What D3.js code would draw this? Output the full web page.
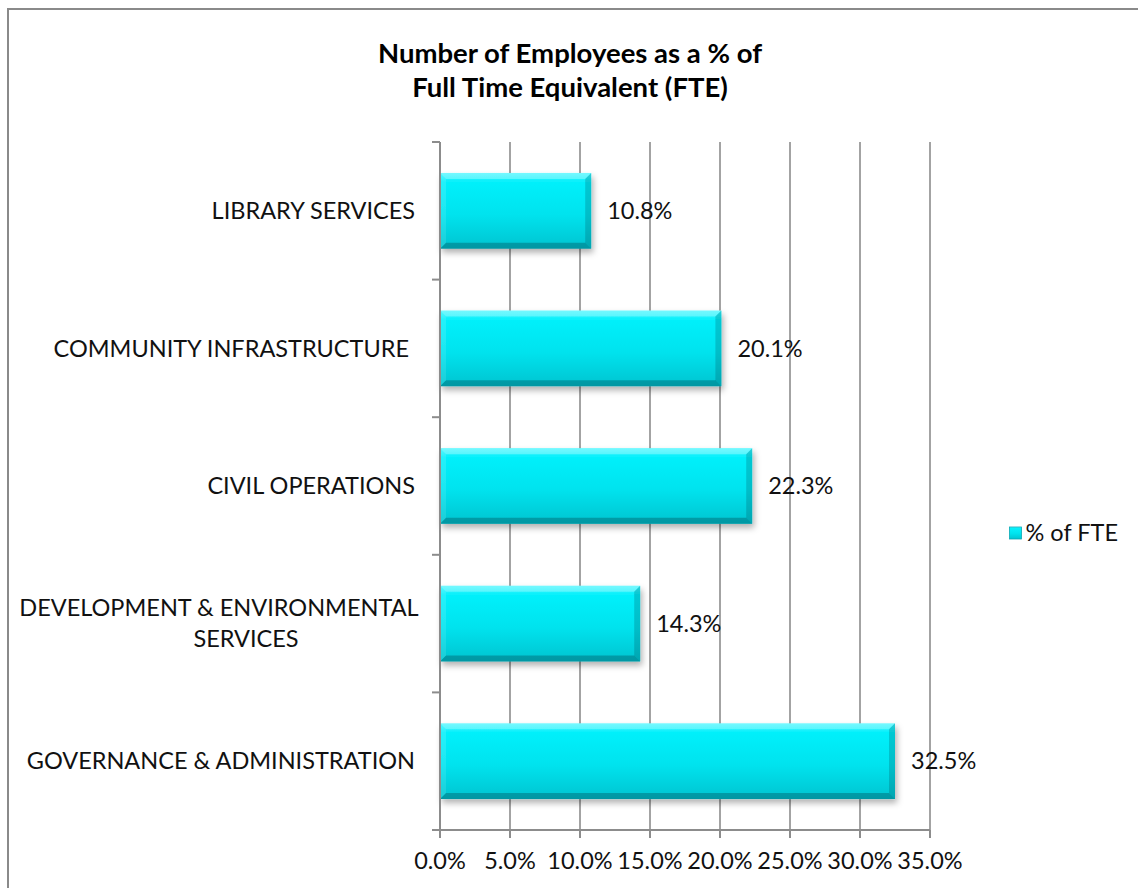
<!DOCTYPE html>
<html>
<head>
<meta charset="utf-8">
<script src="https://cdn.jsdelivr.net/npm/d3@7"></script>
<style>
  body { margin: 0; background: #fff; }
  svg { display: block; font-family: Lato, "Open Sans", sans-serif; }
</style>
</head>
<body>
<div id="chart"></div>
<script>
// chart data
const categories = [
    ['LIBRARY SERVICES'],
    ['COMMUNITY INFRASTRUCTURE '],
    ['CIVIL OPERATIONS'],
    ['DEVELOPMENT & ENVIRONMENTAL', 'SERVICES'],
    ['GOVERNANCE & ADMINISTRATION']
];
const values = [10.8, 20.1, 22.3, 14.3, 32.5];
const xTicks = [0, 5, 10, 15, 20, 25, 30, 35];
const seriesName = '% of FTE';
const titleLines = ['Number of Employees as a % of', 'Full Time Equivalent (FTE)'];

const width = 1138;
const height = 888;
const plot = { left: 440, right: 930, top: 142, bottom: 830 };
const labelSize = '23.5px';

const svg = d3.select('#chart')
    .append('svg')
    .attr('width', width)
    .attr('height', height);

const defs = svg.append('defs');

const grad = defs.append('linearGradient')
    .attr('id', 'barGrad')
    .attr('x1', 0).attr('y1', 0).attr('x2', 0).attr('y2', 1);
grad.append('stop').attr('offset', '0%').attr('stop-color', '#40f6ff');
grad.append('stop').attr('offset', '12%').attr('stop-color', '#06f0fb');
grad.append('stop').attr('offset', '55%').attr('stop-color', '#00e3ee');
grad.append('stop').attr('offset', '100%').attr('stop-color', '#00c4d0');

const shadow = defs.append('filter')
    .attr('id', 'shadow')
    .attr('x', '-5%').attr('y', '-20%').attr('width', '115%').attr('height', '150%');
shadow.append('feDropShadow')
    .attr('dx', 2).attr('dy', 4).attr('stdDeviation', 3)
    .attr('flood-color', '#000').attr('flood-opacity', 0.3);

// outer frame
svg.append('rect')
    .attr('x', 8).attr('y', 9)
    .attr('width', width + 20).attr('height', height + 20)
    .attr('fill', 'none')
    .attr('stroke', '#8a8a8a')
    .attr('stroke-width', 2);

// title
svg.append('text')
    .attr('x', 570)
    .attr('text-anchor', 'middle')
    .style('font-size', '27.5px')
    .style('font-weight', 'bold')
    .selectAll('tspan')
    .data(titleLines)
    .enter().append('tspan')
    .attr('x', 570)
    .attr('y', (d, i) => 63 + i * 34)
    .text(d => d);

const x = d3.scaleLinear()
    .domain([0, 35])
    .range([plot.left, plot.right]);

const y = d3.scaleBand()
    .domain(d3.range(categories.length))
    .range([plot.top, plot.bottom])
    .paddingInner(0.45)
    .paddingOuter(0.225);

const yBand = d3.scaleBand()
    .domain(d3.range(categories.length))
    .range([plot.top, plot.bottom]);

// gridlines
svg.append('g')
    .selectAll('line')
    .data(xTicks.slice(1))
    .enter().append('line')
    .attr('x1', d => x(d)).attr('x2', d => x(d))
    .attr('y1', plot.top).attr('y2', plot.bottom)
    .attr('stroke', '#8c8c8c')
    .attr('stroke-width', 1.6);

// bars
const bars = svg.append('g')
    .selectAll('g')
    .data(values)
    .enter().append('g')
    .attr('filter', 'url(#shadow)');

bars.append('rect')
    .attr('x', x(0))
    .attr('y', (d, i) => y(i))
    .attr('width', d => x(d) - x(0))
    .attr('height', y.bandwidth())
    .attr('fill', 'url(#barGrad)');

// bevel edges
const bev = 6;
function bevelPath(d, i, side) {
    const x0 = x(0), x1 = x(d), y0 = y(i), y1 = y(i) + y.bandwidth();
    if (side === 'top') return `M${x0},${y0}L${x1},${y0}L${x1 - bev},${y0 + bev}L${x0 + bev},${y0 + bev}Z`;
    if (side === 'bottom') return `M${x0},${y1}L${x1},${y1}L${x1 - bev},${y1 - bev}L${x0 + bev},${y1 - bev}Z`;
    if (side === 'left') return `M${x0},${y0}L${x0 + bev},${y0 + bev}L${x0 + bev},${y1 - bev}L${x0},${y1}Z`;
    return `M${x1},${y0}L${x1 - bev},${y0 + bev}L${x1 - bev},${y1 - bev}L${x1},${y1}Z`;
}
const bevelFill = { top: 'rgba(255,255,255,0.28)', bottom: 'rgba(0,70,80,0.35)', left: 'rgba(255,255,255,0.12)', right: 'rgba(0,60,70,0.22)' };
['top', 'bottom', 'left', 'right'].forEach(side => {
    bars.append('path')
        .attr('d', (d, i) => bevelPath(d, i, side))
        .attr('fill', bevelFill[side]);
});

// value labels
svg.append('g')
    .selectAll('text')
    .data(values)
    .enter().append('text')
    .attr('x', d => x(d) + 16)
    .attr('y', (d, i) => y(i) + y.bandwidth() / 2)
    .attr('dy', '0.35em')
    .style('font-size', labelSize)
    .attr('fill', '#111')
    .text(d => d.toFixed(1) + '%');

// y axis
svg.append('line')
    .attr('x1', plot.left).attr('x2', plot.left)
    .attr('y1', plot.top).attr('y2', plot.bottom + 8)
    .attr('stroke', '#8c8c8c').attr('stroke-width', 2);

svg.append('g')
    .selectAll('line')
    .data(d3.range(categories.length + 1))
    .enter().append('line')
    .attr('x1', plot.left - 8).attr('x2', plot.left)
    .attr('y1', i => i < categories.length ? yBand(i) : plot.bottom)
    .attr('y2', i => i < categories.length ? yBand(i) : plot.bottom)
    .attr('stroke', '#8c8c8c').attr('stroke-width', 2);

// x axis
svg.append('line')
    .attr('x1', plot.left - 8).attr('x2', plot.right)
    .attr('y1', plot.bottom).attr('y2', plot.bottom)
    .attr('stroke', '#8c8c8c').attr('stroke-width', 2);

svg.append('g')
    .selectAll('line')
    .data(xTicks)
    .enter().append('line')
    .attr('x1', d => x(d)).attr('x2', d => x(d))
    .attr('y1', plot.bottom).attr('y2', plot.bottom + 8)
    .attr('stroke', '#8c8c8c').attr('stroke-width', 2);

svg.append('g')
    .selectAll('text')
    .data(xTicks)
    .enter().append('text')
    .attr('x', d => x(d))
    .attr('y', 869)
    .attr('text-anchor', 'middle')
    .style('font-size', labelSize)
    .attr('fill', '#111')
    .text(d => d.toFixed(1) + '%');

// category labels
const catLabels = svg.append('g')
    .selectAll('text')
    .data(categories)
    .enter().append('text')
    .style('font-size', labelSize)
    .attr('fill', '#111')
    .attr('text-anchor', d => d.length > 1 ? 'middle' : 'end')
    .attr('xml:space', 'preserve');

catLabels.selectAll('tspan')
    .data((d, i) => d.map((t, j) => ({ t, j, n: d.length, i })))
    .enter().append('tspan')
    .attr('x', d => d.n > 1 ? (d.j === 0 ? 219 : 246) : 415)
    .attr('y', d => yBand(d.i) + yBand.bandwidth() / 2 + (d.j - (d.n - 1) / 2) * 31)
    .attr('dy', '0.35em')
    .text(d => d.t);

// legend, text ends near the right edge of the frame area
const legend = svg.append('g').attr('transform', 'translate(0,533)');
const legendText = legend.append('text')
    .attr('x', 1118)
    .attr('text-anchor', 'end')
    .attr('dy', '0.35em')
    .style('font-size', labelSize)
    .attr('fill', '#111')
    .text(seriesName);
const textW = legendText.node().getComputedTextLength();
legend.append('rect')
    .attr('x', 1118 - textW - 16).attr('y', -6)
    .attr('width', 12).attr('height', 12)
    .attr('fill', 'url(#barGrad)')
    .attr('stroke', '#0aa8b4').attr('stroke-width', 0.8);
</script>
</body>
</html>
